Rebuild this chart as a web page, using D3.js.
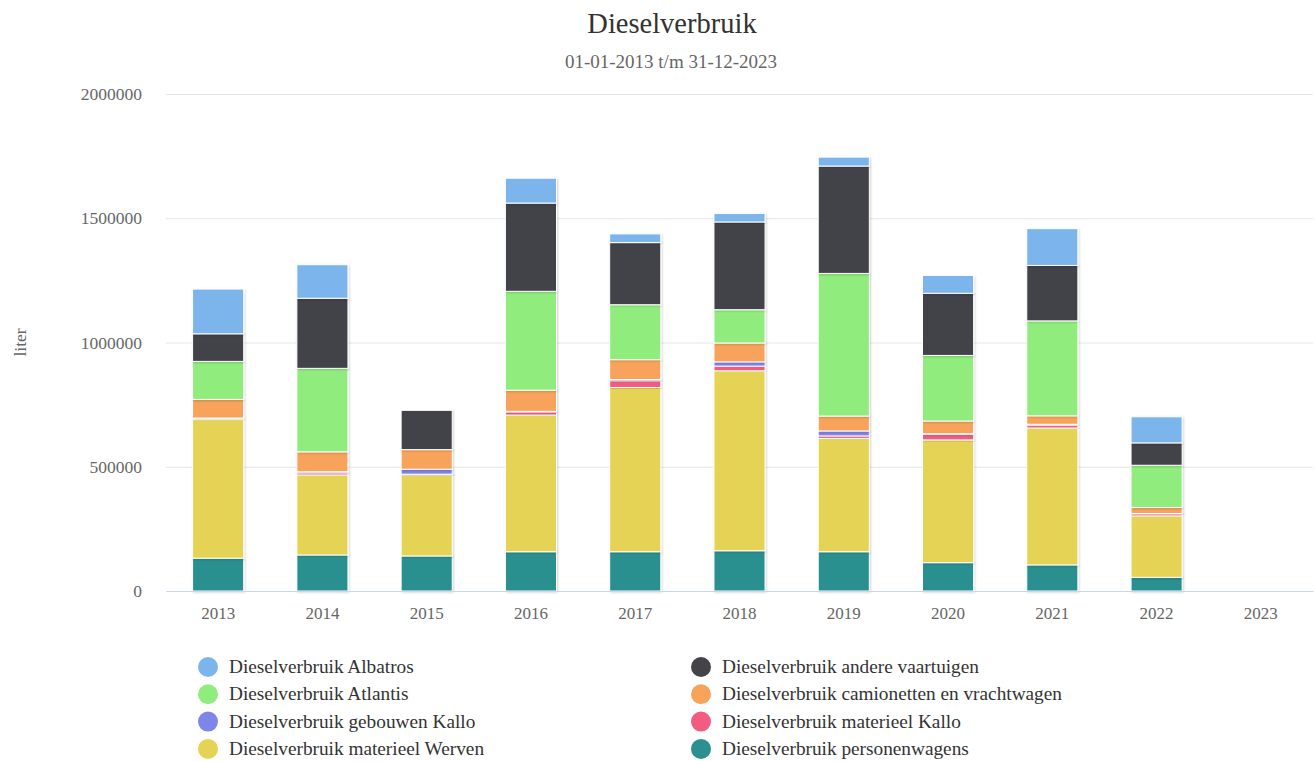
<!DOCTYPE html>
<html>
<head>
<meta charset="utf-8">
<script src="https://cdn.jsdelivr.net/npm/d3@7"></script>
<style>
  body { margin: 0; background: #fff; }
  text { font-family: "Liberation Serif", "Times New Roman", serif; }
</style>
</head>
<body>
<div id="chart"></div>
<script>
// data (liter per year)
var years = ["2013", "2014", "2015", "2016", "2017", "2018", "2019", "2020", "2021", "2022", "2023"];
var albatros       = [180000, 135000,      0, 100000,  35000,  34000,  36000,  72000, 148000, 105000, 0];
var andere         = [111000, 282000, 158000, 355000, 250000, 353000, 432000, 250000, 223000,  90000, 0];
var atlantis       = [153000, 336000,      0, 398000, 221000, 134000, 574000, 264000, 382000, 170000, 0];
var camionetten    = [ 75000,  80000,  79000,  85000,  80000,  76000,  60000,  51000,  34000,  24000, 0];
var gebouwenKallo  = [  3000,   5000,  20000,   3000,   5000,  17000,  20000,   3000,   5000,   2000, 0];
var materieelKallo = [  4000,   8000,   3000,  12000,  27000,  19000,  10000,  22000,  10000,   8000, 0];
var werven         = [557000, 322000, 326000, 550000, 661000, 724000, 456000, 494000, 551000, 247000, 0];
var personen       = [132000, 145000, 141000, 158000, 158000, 162000, 158000, 114000, 105000,  55000, 0];
var yTicks = [0, 500000, 1000000, 1500000, 2000000];

// legend order (= top to bottom in the stack)
var series = [
  {name: "Dieselverbruik Albatros", values: albatros, color: "#7cb5ec"},
  {name: "Dieselverbruik andere vaartuigen", values: andere, color: "#434348"},
  {name: "Dieselverbruik Atlantis", values: atlantis, color: "#90ed7d"},
  {name: "Dieselverbruik camionetten en vrachtwagen", values: camionetten, color: "#f7a35c"},
  {name: "Dieselverbruik gebouwen Kallo", values: gebouwenKallo, color: "#8085e9"},
  {name: "Dieselverbruik materieel Kallo", values: materieelKallo, color: "#f15c80"},
  {name: "Dieselverbruik materieel Werven", values: werven, color: "#e4d354"},
  {name: "Dieselverbruik personenwagens", values: personen, color: "#2b908f"}
];

var W = 1315, H = 761;
var margin = {top: 94, right: 2, bottom: 170, left: 166};
var width = W - margin.left - margin.right,
    height = H - margin.top - margin.bottom;

var svg = d3.select("#chart").append("svg")
  .attr("width", W)
  .attr("height", H);

var defs = svg.append("defs");
var shadow = defs.append("filter").attr("id", "shadow")
  .attr("x", "-20%").attr("y", "-20%").attr("width", "140%").attr("height", "140%");
shadow.append("feDropShadow")
  .attr("dx", 1).attr("dy", 1).attr("stdDeviation", 1)
  .attr("flood-color", "#000").attr("flood-opacity", 0.18);

// title
svg.append("text")
  .attr("x", 672).attr("y", 33)
  .attr("text-anchor", "middle")
  .style("font-size", "28.5px").style("fill", "#333")
  .text("Dieselverbruik");
svg.append("text")
  .attr("x", 671).attr("y", 68)
  .attr("text-anchor", "middle")
  .style("font-size", "19px").style("fill", "#666")
  .text("01-01-2013 t/m 31-12-2023");

var g = svg.append("g")
  .attr("transform", "translate(" + margin.left + "," + margin.top + ")");

var x = d3.scaleBand()
  .domain(years)
  .range([0, width])
  .paddingInner(0.51)
  .paddingOuter(0.255);

var y = d3.scaleLinear()
  .domain([0, 2000000])
  .range([height, 0]);

// grid
g.append("g")
  .selectAll("line")
  .data(yTicks)
  .enter().append("line")
    .attr("x1", 0).attr("x2", width)
    .attr("y1", function(d) { return y(d) + 0.5; })
    .attr("y2", function(d) { return y(d) + 0.5; })
    .attr("stroke", "#e6e6e6");

// y axis
var yAxis = g.append("g")
  .call(d3.axisLeft(y).tickValues(yTicks).tickSize(0).tickPadding(24).tickFormat(d3.format("d")));
yAxis.select(".domain").remove();
yAxis.selectAll("text")
  .style("font-size", "17.5px").style("fill", "#666")
  .style("font-family", "Liberation Serif, serif");

svg.append("text")
  .attr("transform", "translate(26," + (margin.top + height / 2) + ") rotate(-90)")
  .attr("text-anchor", "middle")
  .style("font-size", "17.5px").style("fill", "#666")
  .text("liter");

// stacked data
var table = years.map(function(yr, i) {
  var row = {year: yr};
  series.forEach(function(s) { row[s.name] = s.values[i]; });
  return row;
});
var keys = series.slice().reverse().map(function(s) { return s.name; });
var stacked = d3.stack().keys(keys)(table);
var colorOf = {};
series.forEach(function(s) { colorOf[s.name] = s.color; });

g.append("g").selectAll("g")
  .data(stacked)
  .enter().append("g")
    .attr("fill", function(d) { return colorOf[d.key]; })
  .selectAll("rect")
  .data(function(d) { return d.filter(function(p) { return p[1] - p[0] > 0; }); })
  .enter().append("rect")
    .attr("x", function(d) { return x(d.data.year); })
    .attr("y", function(d) { return y(d[1]); })
    .attr("width", x.bandwidth())
    .attr("height", function(d) { return y(d[0]) - y(d[1]); })
    .attr("stroke", "#fff")
    .attr("stroke-width", 1)
    .attr("filter", "url(#shadow)");

// x axis
var xAxis = g.append("g")
  .attr("transform", "translate(0," + height + ")")
  .call(d3.axisBottom(x).tickSize(0).tickPadding(16));
xAxis.select(".domain").attr("stroke", "#ccd6eb");
xAxis.selectAll("text")
  .style("font-size", "17px").style("fill", "#666")
  .style("font-family", "Liberation Serif, serif");

// legend
var legend = svg.append("g");
var item = legend.selectAll("g")
  .data(series)
  .enter().append("g")
    .attr("transform", function(d, i) {
      var col = i % 2, row = Math.floor(i / 2);
      return "translate(" + (col === 0 ? 208 : 701) + "," + (667 + row * 27.3) + ")";
    });
item.append("circle")
  .attr("r", 10)
  .attr("fill", function(d) { return d.color; });
item.append("text")
  .attr("x", 21).attr("y", 6)
  .style("font-size", "19.3px").style("fill", "#333")
  .text(function(d) { return d.name; });
</script>
</body>
</html>
